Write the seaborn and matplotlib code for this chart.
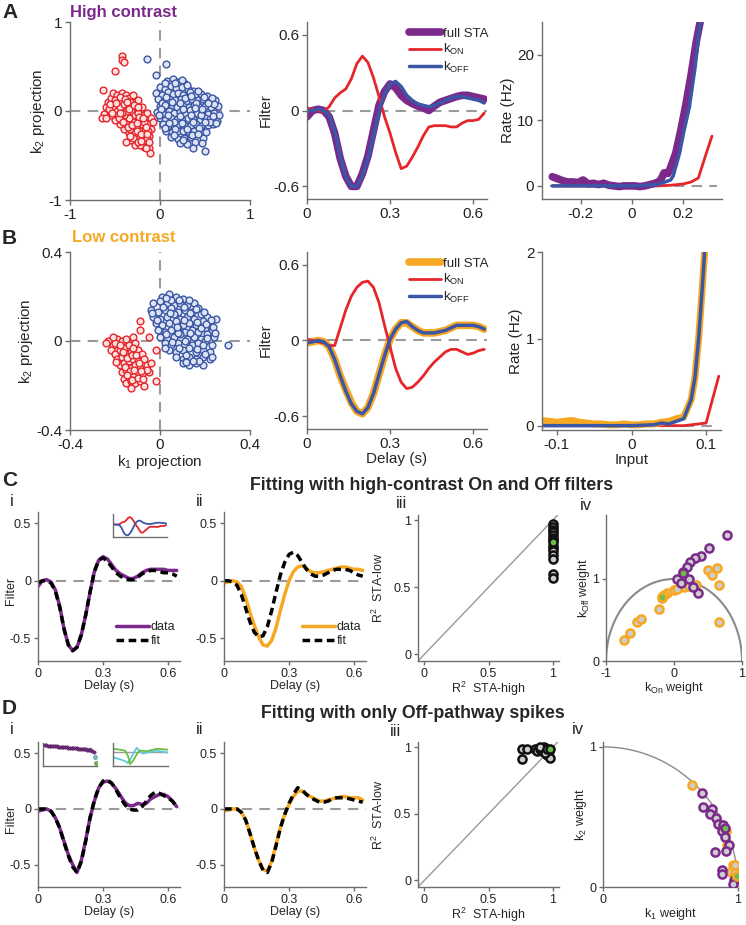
import numpy as np
import matplotlib
matplotlib.use("Agg")
import matplotlib.pyplot as plt
import seaborn as sns

sns.set_theme(style="ticks")
plt.rcParams['font.family'] = ['Liberation Sans', 'DejaVu Sans']
plt.rcParams['mathtext.fontset'] = 'custom'
plt.rcParams['mathtext.rm'] = 'Liberation Sans'
plt.rcParams['mathtext.it'] = 'Liberation Sans:italic'
plt.rcParams['mathtext.bf'] = 'Liberation Sans:bold'
plt.rcParams['axes.unicode_minus'] = False

PURPLE = '#7B2A8C'
RED = '#E5262B'
BLUE = '#3A56A5'
ORANGE = '#F7A823'
GRAY = '#9a9a9a'
SPINE = '#6e6e6e'
CYAN = '#5FC9DD'
GREEN = '#6CBD45'
LIGHT = '#cdcdcd'

# --- data: projections (A, B) ---
a_red = [(-0.62,-0.03),(-0.60,0.05),(-0.58,0.10),(-0.55,0.15),(-0.52,0.20),(-0.48,0.18),(-0.45,0.12),(-0.42,0.20),
         (-0.38,0.18),(-0.35,0.15),(-0.30,0.10),(-0.27,0.05),(-0.22,0.00),(-0.18,-0.05),(-0.15,-0.10),(-0.12,-0.15),
         (-0.10,-0.20),(-0.12,-0.28),(-0.15,-0.35),(-0.18,-0.40),(-0.12,-0.42),(-0.11,-0.47),(-0.25,-0.30),(-0.28,-0.38),
         (-0.32,-0.33),(-0.35,-0.25),(-0.40,-0.20),(-0.45,-0.15),(-0.50,-0.10),(-0.55,-0.05),(-0.52,0.05),(-0.48,0.00),
         (-0.45,0.05),(-0.40,0.08),(-0.35,0.05),(-0.32,0.00),(-0.28,-0.05),(-0.25,-0.10),(-0.20,-0.15),(-0.22,-0.22),
         (-0.27,-0.18),(-0.30,-0.12),(-0.35,-0.08),(-0.40,-0.05),(-0.43,-0.10),(-0.38,-0.15),(-0.33,-0.20),(-0.28,-0.25),
         (-0.20,-0.30),(-0.17,-0.22),(-0.15,-0.02),(-0.20,0.05),(-0.25,0.12),(-0.30,0.18),(-0.42,0.62),(-0.42,0.57),
         (-0.40,0.55),(-0.50,0.45),(-0.63,0.24),(-0.38,-0.35),(-0.22,-0.38),(-0.14,-0.30),(-0.65,-0.08),(-0.47,-0.05),
         (-0.37,0.00),(-0.24,-0.02),(-0.18,-0.12),(-0.10,-0.08),(-0.08,-0.12),(-0.30,-0.30),(-0.57,0.02),(-0.50,0.12),
         (-0.42,-0.02),(-0.33,0.10),(-0.23,-0.07),(-0.13,-0.22),(-0.25,-0.35),(-0.16,-0.42),
         (-0.60,-0.08),(-0.56,0.08),(-0.53,-0.02),(-0.49,0.09),(-0.46,-0.08),(-0.44,0.16),(-0.41,-0.12),(-0.39,0.13),
         (-0.36,-0.18),(-0.34,0.02),(-0.31,-0.16),(-0.29,0.07),(-0.26,-0.22),(-0.24,0.04),(-0.21,-0.26),(-0.19,-0.08),
         (-0.16,-0.18),(-0.14,-0.26),(-0.12,-0.35),(-0.26,-0.14),(-0.33,-0.28),(-0.37,0.10),(-0.45,-0.02),(-0.21,-0.34)]
a_blue = [(0.08,0.34),(0.14,0.36),(0.20,0.33),(0.27,0.31),(0.11,0.30),(0.24,0.35),
          (0.00,0.27),(0.05,0.25),(0.12,0.28),(0.18,0.26),(0.24,0.27),(0.31,0.25),(0.37,0.23),
          (-0.04,0.20),(0.02,0.18),(0.09,0.21),(0.14,0.19),(0.20,0.20),(0.26,0.18),(0.33,0.21),(0.39,0.18),(0.45,0.19),(0.52,0.17),
          (-0.02,0.13),(0.04,0.11),(0.10,0.14),(0.17,0.12),(0.23,0.13),(0.29,0.11),(0.35,0.14),(0.42,0.12),(0.48,0.13),(0.55,0.11),(0.61,0.12),
          (0.00,0.06),(0.07,0.04),(0.13,0.07),(0.19,0.05),(0.26,0.06),(0.32,0.04),(0.38,0.07),(0.44,0.05),(0.50,0.06),(0.57,0.04),(0.64,0.06),
          (-0.03,-0.01),(0.03,-0.03),(0.10,0.00),(0.16,-0.02),(0.22,-0.01),(0.28,-0.03),(0.35,0.00),(0.41,-0.02),(0.47,-0.01),(0.53,-0.03),(0.60,-0.02),
          (0.00,-0.08),(0.06,-0.10),(0.12,-0.08),(0.19,-0.09),(0.25,-0.10),(0.31,-0.08),(0.37,-0.09),(0.44,-0.10),(0.50,-0.08),(0.56,-0.09),(0.63,-0.11),
          (0.03,-0.15),(0.09,-0.17),(0.15,-0.16),(0.21,-0.15),(0.28,-0.17),(0.34,-0.16),(0.40,-0.15),(0.46,-0.17),(0.53,-0.16),(0.59,-0.15),
          (0.07,-0.22),(0.13,-0.24),(0.20,-0.23),(0.26,-0.22),(0.32,-0.24),(0.38,-0.23),(0.45,-0.22),(0.51,-0.24),
          (0.12,-0.29),(0.20,-0.31),(0.27,-0.30),(0.34,-0.29),(0.41,-0.31),(0.48,-0.30),
          (0.22,-0.36),(0.30,-0.37),(0.39,-0.35),(0.47,-0.36),
          (-0.15,0.58),(0.07,0.53),(-0.05,0.40),(0.37,-0.42),(0.50,-0.45),(0.65,-0.05),
          (0.07,0.16),(0.22,0.09),(0.33,0.01),(0.46,-0.05),(0.16,-0.12),(0.30,-0.20),(0.40,0.09),(0.55,-0.12),(0.02,0.09),(0.28,0.15),
          (0.05,0.31),(0.17,0.31),(0.30,0.29),(0.34,0.17),(0.42,0.22),(0.49,0.16),(0.58,0.15),(0.60,0.08),(0.53,0.09),
          (0.47,0.02),(0.39,0.03),(0.25,0.02),(0.13,0.10),(0.06,0.07),(0.01,0.02),(-0.01,-0.05),(0.09,-0.05),(0.22,-0.06),
          (0.34,-0.05),(0.59,-0.06),(0.62,-0.13),(0.50,-0.12),(0.43,-0.19),(0.37,-0.12),(0.24,-0.13),(0.10,-0.13),
          (0.06,-0.19),(0.17,-0.20),(0.35,-0.27),(0.42,-0.26),(0.25,-0.33),(0.16,-0.27)]
b_red = [(-0.23,0.00),(-0.21,-0.02),(-0.19,0.01),(-0.17,0.00),(-0.15,0.01),(-0.12,0.02),(-0.09,0.05),(-0.05,0.02),
         (-0.22,-0.04),(-0.20,-0.06),(-0.18,-0.04),(-0.16,-0.03),(-0.14,-0.02),(-0.11,-0.01),(-0.19,-0.08),(-0.17,-0.07),
         (-0.15,-0.06),(-0.13,-0.05),(-0.10,-0.04),(-0.08,-0.06),(-0.02,-0.04),(-0.18,-0.11),(-0.16,-0.10),(-0.14,-0.09),
         (-0.12,-0.08),(-0.10,-0.09),(-0.07,-0.08),(-0.17,-0.14),(-0.15,-0.13),(-0.13,-0.12),(-0.11,-0.11),(-0.09,-0.12),
         (-0.06,-0.11),(-0.16,-0.17),(-0.14,-0.16),(-0.12,-0.15),(-0.10,-0.14),(-0.08,-0.15),(-0.05,-0.14),(-0.15,-0.19),
         (-0.13,-0.18),(-0.11,-0.19),(-0.09,-0.18),(-0.07,-0.20),(-0.02,-0.18),(-0.20,-0.01),(-0.12,-0.03),(-0.06,-0.13),
         (-0.04,-0.10),(-0.13,-0.21),
         (-0.24,-0.01),(-0.21,0.02),(-0.18,-0.02),(-0.165,-0.05),(-0.145,-0.075),(-0.125,-0.065),(-0.105,-0.065),
         (-0.195,-0.095),(-0.155,-0.115),(-0.135,-0.135),(-0.115,-0.13),(-0.095,-0.10),(-0.085,-0.135),(-0.145,-0.155),
         (-0.125,-0.175),(-0.10,-0.165),(-0.075,-0.17),(-0.09,0.09)]
b_blue = [(0.01,0.20),(0.04,0.21),(0.07,0.20),(0.10,0.19),
          (-0.03,0.17),(0.00,0.18),(0.03,0.17),(0.06,0.16),(0.09,0.17),(0.12,0.16),(0.15,0.17),
          (-0.04,0.14),(-0.01,0.13),(0.02,0.14),(0.05,0.15),(0.08,0.13),(0.11,0.14),(0.14,0.13),(0.17,0.15),
          (-0.03,0.11),(0.00,0.10),(0.03,0.11),(0.06,0.12),(0.09,0.10),(0.12,0.11),(0.15,0.10),(0.18,0.12),(0.21,0.11),
          (-0.02,0.08),(0.01,0.07),(0.04,0.08),(0.07,0.09),(0.10,0.07),(0.13,0.08),(0.16,0.07),(0.19,0.09),(0.22,0.08),
          (-0.01,0.05),(0.02,0.04),(0.05,0.05),(0.08,0.06),(0.11,0.04),(0.14,0.05),(0.17,0.04),(0.20,0.06),(0.23,0.05),
          (0.00,0.02),(0.03,0.01),(0.06,0.02),(0.09,0.03),(0.12,0.01),(0.15,0.02),(0.18,0.01),(0.21,0.03),(0.24,0.02),
          (0.02,-0.01),(0.05,-0.02),(0.08,-0.01),(0.11,0.00),(0.14,-0.02),(0.17,-0.01),(0.20,0.00),(0.23,-0.02),
          (0.04,-0.04),(0.07,-0.05),(0.10,-0.04),(0.13,-0.03),(0.16,-0.05),(0.19,-0.04),(0.22,-0.05),
          (0.07,-0.07),(0.10,-0.08),(0.13,-0.07),(0.16,-0.08),(0.19,-0.07),(0.22,-0.08),
          (0.10,-0.10),(0.13,-0.11),(0.16,-0.10),(0.19,-0.11),
          (0.30,-0.02),(0.02,-0.03),(0.25,0.10),(0.23,-0.07),(0.05,0.185),(0.13,0.185),(0.08,0.035),(0.18,0.06),
          (0.025,0.195),(0.085,0.185),(0.015,0.155),(0.105,0.155),(0.16,0.145),(0.195,0.13),(0.225,0.095),(0.205,0.075),
          (0.235,0.065),(0.245,0.035),(0.21,0.015),(0.19,-0.02),(0.20,-0.06),(0.175,-0.09),(0.145,-0.09),(0.115,-0.065),
          (0.085,-0.03),(0.055,-0.005),(0.025,0.03),(-0.015,0.095),(-0.035,0.125),(0.045,0.125),(0.135,0.125),
          (0.105,0.095),(0.165,0.085),(0.075,0.065),(0.135,0.035),(0.165,-0.035),(0.115,-0.095)]

# --- data: filters (s) ---
delay = [0.00,0.02,0.04,0.06,0.08,0.10,0.12,0.14,0.16,0.18,0.20,0.22,0.24,0.26,0.28,0.30,0.32,
         0.34,0.36,0.38,0.40,0.42,0.44,0.46,0.48,0.50,0.52,0.54,0.56,0.58,0.60,0.62,0.64]
sta_high = [-0.05,0.00,0.01,0.00,-0.05,-0.18,-0.38,-0.52,-0.60,-0.60,-0.50,-0.36,-0.16,0.04,0.15,0.21,0.18,
            0.12,0.08,0.055,0.035,0.02,0.00,0.035,0.065,0.08,0.095,0.11,0.12,0.12,0.11,0.10,0.09]
koff_high = [0.00,0.00,0.01,0.00,-0.04,-0.16,-0.36,-0.52,-0.60,-0.60,-0.52,-0.38,-0.20,-0.01,0.13,0.21,0.23,
             0.19,0.12,0.08,0.05,0.04,0.03,0.04,0.06,0.08,0.10,0.11,0.11,0.10,0.09,0.08,0.06]
kon_high = [0.02,0.01,0.00,-0.01,0.03,0.10,0.14,0.17,0.25,0.37,0.43,0.38,0.26,0.11,-0.05,-0.18,-0.33,
            -0.46,-0.44,-0.37,-0.29,-0.20,-0.13,-0.12,-0.12,-0.12,-0.13,-0.13,-0.10,-0.08,-0.08,-0.07,-0.02]
sta_low = [-0.02,-0.01,0.00,-0.01,-0.05,-0.15,-0.28,-0.39,-0.49,-0.56,-0.58,-0.53,-0.42,-0.27,-0.12,0.01,0.09,
           0.14,0.14,0.11,0.08,0.06,0.06,0.06,0.07,0.08,0.10,0.12,0.12,0.12,0.12,0.11,0.09]
koff_low = [-0.02,-0.01,0.00,-0.01,-0.05,-0.15,-0.28,-0.40,-0.50,-0.56,-0.58,-0.53,-0.42,-0.27,-0.12,0.01,0.09,
            0.14,0.15,0.11,0.08,0.06,0.06,0.06,0.07,0.08,0.10,0.12,0.12,0.12,0.12,0.11,0.09]
kon_low = [0.01,0.00,-0.01,-0.02,-0.04,-0.04,0.10,0.24,0.35,0.42,0.46,0.47,0.42,0.30,0.12,-0.05,-0.22,
           -0.33,-0.38,-0.37,-0.33,-0.28,-0.22,-0.17,-0.13,-0.09,-0.07,-0.07,-0.09,-0.11,-0.10,-0.08,-0.07]

# --- data: nonlinearities ---
in_high = [-0.31,-0.29,-0.27,-0.25,-0.23,-0.21,-0.19,-0.17,-0.15,-0.13,-0.11,-0.09,-0.07,-0.05,-0.03,-0.01,
           0.01,0.03,0.05,0.07,0.09,0.11,0.125,0.14,0.15,0.17,0.19,0.21,0.23,0.25,0.265]
rate_sta_high = [1.4,1.1,0.8,0.6,0.6,0.5,0.9,0.3,0.4,0.2,0.4,0.1,0.0,-0.1,0.0,0.0,
                 0.0,-0.1,0.0,0.2,0.4,0.8,2.0,1.9,2.8,5.0,8.5,12.5,17.0,22.0,25.0]
in_off_high = [-0.31,0.00,0.10,0.15,0.16,0.185,0.20,0.223,0.245,0.265]
rate_off_high = [0.0,0.0,0.2,0.9,1.5,5.0,8.0,12.0,18.0,25.0]
in_on_high = [-0.31,0.10,0.15,0.20,0.23,0.258,0.285,0.311]
rate_on_high = [0.0,0.0,0.1,0.3,0.6,1.2,4.5,7.6]
in_low = [-0.12,-0.11,-0.10,-0.09,-0.08,-0.07,-0.06,-0.05,-0.04,-0.03,-0.02,-0.01,0.00,0.01,0.02,
          0.03,0.04,0.05,0.06,0.07,0.08,0.085,0.09,0.095,0.098]
rate_sta_low = [0.06,0.05,0.04,0.05,0.06,0.04,0.03,0.02,0.02,0.01,0.01,0.02,0.01,0.01,0.02,
                0.02,0.04,0.05,0.08,0.10,0.30,0.55,1.00,1.60,2.00]
in_off_low = [-0.12,0.00,0.03,0.04,0.05,0.06,0.07,0.08,0.085,0.09,0.095,0.098]
rate_off_low = [0.0,0.0,0.01,0.03,0.02,0.05,0.08,0.30,0.55,1.00,1.60,2.00]
in_on_low = [-0.12,0.07,0.10,0.117]
rate_on_low = [0.0,0.0,0.03,0.57]

# --- data: fits (C, D) ---
c_high_data = [-0.05,0.00,0.01,-0.01,-0.08,-0.22,-0.42,-0.56,-0.61,-0.58,-0.47,-0.30,-0.10,0.08,0.18,0.21,0.19,
               0.14,0.09,0.06,0.04,0.02,0.02,0.04,0.07,0.09,0.10,0.10,0.10,0.10,0.09,0.09,0.09]
c_high_fit = [-0.02,0.00,0.00,-0.02,-0.09,-0.23,-0.42,-0.56,-0.61,-0.58,-0.47,-0.30,-0.10,0.08,0.18,0.20,0.17,
              0.12,0.07,0.04,0.02,0.01,0.01,0.03,0.06,0.08,0.09,0.09,0.08,0.07,0.07,0.06,0.04]
c_low_data = [-0.02,-0.01,0.00,-0.01,-0.05,-0.15,-0.28,-0.39,-0.49,-0.56,-0.57,-0.52,-0.41,-0.26,-0.12,0.00,0.08,
              0.12,0.13,0.11,0.08,0.07,0.07,0.08,0.09,0.10,0.11,0.12,0.12,0.11,0.10,0.10,0.09]
c_low_fit = [0.00,0.00,-0.01,-0.04,-0.12,-0.24,-0.36,-0.45,-0.49,-0.48,-0.40,-0.26,-0.10,0.05,0.16,0.23,0.25,
             0.22,0.16,0.10,0.06,0.04,0.04,0.05,0.07,0.09,0.10,0.10,0.10,0.09,0.07,0.05,0.04]
d_high_data = [-0.02,-0.01,0.00,-0.02,-0.08,-0.17,-0.29,-0.41,-0.50,-0.57,-0.46,-0.28,-0.08,0.07,0.19,0.24,0.25,
               0.23,0.18,0.12,0.06,0.03,0.03,0.05,0.04,0.05,0.09,0.11,0.13,0.13,0.11,0.07,0.02]
d_high_fit = [0.00,0.00,0.00,-0.02,-0.08,-0.17,-0.30,-0.42,-0.52,-0.57,-0.47,-0.29,-0.08,0.08,0.19,0.25,0.26,
              0.23,0.17,0.10,0.04,0.00,-0.01,-0.01,0.02,0.07,0.12,0.15,0.14,0.12,0.10,0.07,0.02]
d_low_data = [-0.02,-0.01,0.00,0.00,-0.03,-0.10,-0.22,-0.35,-0.46,-0.54,-0.56,-0.47,-0.32,-0.17,-0.05,0.04,0.11,
              0.16,0.16,0.13,0.11,0.09,0.07,0.07,0.08,0.09,0.10,0.11,0.11,0.10,0.10,0.10,0.08]
d_low_fit = [0.00,0.00,0.00,0.00,-0.03,-0.10,-0.22,-0.35,-0.46,-0.55,-0.57,-0.48,-0.33,-0.17,-0.05,0.05,0.13,
             0.19,0.17,0.13,0.10,0.08,0.06,0.06,0.07,0.09,0.10,0.10,0.10,0.09,0.08,0.07,0.06]

# r2 of fits: (STA-high, STA-low)
c_r2_high = [1.0,1.0,1.0,1.0,1.0,1.0,1.0,1.0,1.0,1.0,1.0,1.0,1.0,1.0]
c_r2_low = [0.97,0.95,0.93,0.91,0.89,0.87,0.85,0.81,0.79,0.77,0.74,0.71,0.60,0.57]
c_r2_sel = (1.0, 0.84)
d_r2_high = [0.76,0.76,0.80,0.86,0.88,0.90,0.92,0.93,0.95,0.96,0.97,0.98,0.90,0.94,0.96]
d_r2_low = [0.99,0.91,0.99,0.99,0.97,0.99,0.97,1.00,0.99,0.94,0.97,0.92,1.00,0.96,0.99]
d_r2_sel = (0.98, 0.99)

# weights
c_w_high_on = [0.78,0.51,0.40,0.31,0.24,0.19,0.13,0.22,0.05,0.35,0.28,0.10]
c_w_high_off = [1.54,1.38,1.28,1.26,1.21,1.15,1.09,1.00,1.00,0.83,0.90,0.95]
c_w_low_on = [-0.74,-0.65,-0.55,-0.49,-0.22,-0.17,-0.10,0.00,0.15,0.32,0.50,0.63,0.56,0.66,0.66,-0.15,0.05,0.22]
c_w_low_off = [0.26,0.34,0.48,0.51,0.63,0.77,0.83,0.87,0.90,0.93,1.11,1.13,1.05,0.93,0.48,0.80,0.88,0.91]
c_w_sel_high = (0.13, 1.07)
c_w_sel_low = (-0.17, 0.78)
d_w_low_1 = [0.66,0.92,0.96,0.98,0.95,0.99,1.00,0.91,0.97,0.98]
d_w_low_2 = [0.73,0.30,0.155,0.155,0.107,0.06,0.01,0.40,0.03,0.10]
d_w_high_1 = [0.73,0.74,0.81,0.79,0.84,0.85,0.89,0.88,0.90,0.93,0.91,0.83,0.88,0.88,0.97,0.96]
d_w_high_2 = [0.67,0.57,0.56,0.52,0.49,0.45,0.44,0.40,0.36,0.30,0.26,0.25,0.12,0.09,0.05,0.02]
d_w_sel_high = (0.90, 0.42)
d_w_sel_low = (0.99, 0.08)

# insets in D i
rank_vals = [1.00,0.99,0.98,0.975,0.965,0.955,0.95,0.94,0.93,0.925,0.915,0.905,0.90,0.89,0.88,
             0.875,0.865,0.855,0.85,0.84,0.83,0.82,0.81,0.80,0.79,0.78,0.77,0.75,0.72,0.66]
rank_extra = [0.45, 0.15]
inset_t = [0.00,0.13,0.22,0.27,0.31,0.37,0.43,0.48,0.54,0.62,0.80,1.00]
inset_cyan = [-0.6,-0.8,-1.0,-1.2,-0.9,-0.2,0.4,0.1,-0.2,-0.1,0.1,-0.1]
inset_green = [0.3,0.2,0.1,-0.4,-1.3,-0.9,-0.3,0.1,0.1,0.05,0.3,0.2]

W, H = 746, 925
fig = plt.figure(figsize=(W / 100, H / 100), dpi=100)


def px_axes(l, t, r, b):
    return fig.add_axes([l / W, 1 - b / H, (r - l) / W, (b - t) / H])


def style(ax, fs, ticklen=3.5):
    sns.despine(ax=ax)
    for s in ('left', 'bottom'):
        ax.spines[s].set_color(SPINE)
        ax.spines[s].set_linewidth(1.0)
    ax.tick_params(direction='out', length=ticklen, width=1, colors=SPINE,
                   labelcolor='#222222', labelsize=fs, pad=2)
    ax.set_facecolor('none')


def ftext(x, y, s, **kw):
    fig.text(x / W, 1 - y / H, s, va='center', **kw)


def zero_lines(ax, h=True, v=False):
    if h:
        ax.axhline(0, color=GRAY, lw=1.5, dashes=(5, 3.5), zorder=0)
    if v:
        ax.axvline(0, color=GRAY, lw=1.5, dashes=(5, 3.5), zorder=0)


def scatter_cloud(ax, pts, edge, face):
    xs = [p[0] for p in pts]
    ys = [p[1] for p in pts]
    sns.scatterplot(x=xs, y=ys, ax=ax, s=24, color=face, edgecolor=edge, linewidth=1.0, zorder=3)


def line(ax, x, y, color, lw, label=None, **kw):
    sns.lineplot(x=x, y=y, ax=ax, color=color, lw=lw, label=label, sort=False,
                 estimator=None, **kw)


# ---------------- Row A / B ----------------
for row, (pts_r, pts_b, lim, ticks, tlabels, top, bot) in enumerate([
        (a_red, a_blue, 1.0, [-1, 0, 1], ['-1', '0', '1'], 22, 200),
        (b_red, b_blue, 0.4, [-0.4, 0, 0.4], ['-0.4', '0', '0.4'], 252, 430)]):
    ax = px_axes(70, top, 250, bot)
    style(ax, 11)
    zero_lines(ax, True, True)
    scatter_cloud(ax, pts_r, RED, '#fbe0e0')
    scatter_cloud(ax, pts_b, BLUE, '#dde3f3')
    ax.set_xlim(-lim, lim)
    ax.set_ylim(-lim, lim)
    ax.set_xticks(ticks, labels=tlabels)
    ax.set_yticks(ticks, labels=tlabels)
    ax.set_ylabel('k$_2$ projection', fontsize=11, labelpad=1)
    if row == 1:
        ax.set_xlabel('k$_1$ projection', fontsize=11, labelpad=1)

for row, (sta, koff, kon, col, top, bot) in enumerate([
        (sta_high, koff_high, kon_high, PURPLE, 22, 199),
        (sta_low, koff_low, kon_low, ORANGE, 252, 429)]):
    ax = px_axes(307, top, 487, bot)
    style(ax, 11)
    zero_lines(ax)
    line(ax, delay, sta, col, 5.5, 'full STA')
    line(ax, delay, kon, RED, 2.0, 'k$_{\\mathrm{ON}}$')
    line(ax, delay, koff, BLUE, 2.5, 'k$_{\\mathrm{OFF}}$')
    ax.set_xlim(0, 0.65)
    ax.set_ylim(-0.7, 0.7)
    ax.set_xticks([0, 0.3, 0.6], labels=['0', '0.3', '0.6'])
    ax.set_yticks([-0.6, 0, 0.6], labels=['-0.6', '0', '0.6'])
    ax.set_ylabel('Filter', fontsize=11, labelpad=0)
    if row == 1:
        ax.set_xlabel('Delay (s)', fontsize=11, labelpad=1)
    ax.legend(loc='upper right', bbox_to_anchor=(1.04, 1.0), frameon=False, fontsize=9.5,
              handlelength=2.4, handletextpad=0.2, labelspacing=0.2, borderaxespad=0)

ax = px_axes(542, 22, 722, 199)
style(ax, 11)
ax.hlines(0, -0.32, 0.33, color=GRAY, lw=1.5, linestyles=(0, (5, 3.5)), zorder=0)
line(ax, in_on_high, rate_on_high, RED, 2.0)
line(ax, in_high, rate_sta_high, PURPLE, 5.5)
line(ax, in_off_high, rate_off_high, BLUE, 2.5)
ax.set_xlim(-0.35, 0.35)
ax.set_ylim(-2, 25)
ax.set_xticks([-0.2, 0, 0.2], labels=['-0.2', '0', '0.2'])
ax.set_yticks([0, 10, 20], labels=['0', '10', '20'])
ax.set_ylabel('Rate (Hz)', fontsize=11, labelpad=2)

ax = px_axes(542, 252, 721, 430)
style(ax, 11)
ax.hlines(0, -0.12, 0.113, color=GRAY, lw=1.5, linestyles=(0, (5, 3.5)), zorder=0)
line(ax, in_on_low, rate_on_low, RED, 2.0)
line(ax, in_low, rate_sta_low, ORANGE, 5.0)
line(ax, in_off_low, rate_off_low, BLUE, 2.5)
ax.set_xlim(-0.12, 0.12)
ax.set_ylim(-0.05, 2)
ax.set_xticks([-0.1, 0, 0.1], labels=['-0.1', '0', '0.1'])
ax.set_yticks([0, 1, 2], labels=['0', '1', '2'])
ax.set_ylabel('Rate (Hz)', fontsize=11, labelpad=2)
ax.set_xlabel('Input', fontsize=11, labelpad=1)

# ---------------- Rows C / D ----------------
FS = 9


def fit_panel(l, top, bot, data, fit, col, ylabel, legend):
    ax = px_axes(l, top, l + 142, bot)
    style(ax, FS, 3)
    zero_lines(ax)
    line(ax, delay, data, col, 2.5, 'data' if legend else None)
    line(ax, delay, fit, 'black', 2.5, 'fit' if legend else None, dashes=(2.2, 1.3))
    ax.set_xlim(0, 0.655)
    ax.set_ylim(-0.7, 0.6)
    ax.set_xticks([0, 0.3, 0.6], labels=['0', '0.3', '0.6'])
    ax.set_yticks([-0.5, 0, 0.5], labels=['-0.5', '0', '0.5'])
    ax.set_xlabel('Delay (s)', fontsize=FS, labelpad=0)
    if ylabel:
        ax.set_ylabel('Filter', fontsize=FS)
        ax.yaxis.set_label_coords(-0.15, 0.47)
    if legend:
        ax.legend(loc='lower right', bbox_to_anchor=(1.0, 0.06), frameon=False, fontsize=FS,
                  handlelength=2.6, handletextpad=0.15, labelspacing=0.15, borderaxespad=0)
    return ax


def r2_panel(top, bot, xs, ys, sel):
    ax = px_axes(418, top, 559, bot)
    style(ax, FS, 3)
    ax.axline((0, 0), slope=1, color='#999999', lw=1.0, zorder=0)
    sns.scatterplot(x=xs, y=ys, ax=ax, s=34, color=LIGHT, edgecolor='#111111', linewidth=1.8, zorder=3)
    sns.scatterplot(x=[sel[0]], y=[sel[1]], ax=ax, s=34, color=GREEN, edgecolor='#111111',
                    linewidth=1.8, zorder=4)
    ax.set_xlim(-0.05, 1.05)
    ax.set_ylim(-0.05, 1.04)
    ax.set_xticks([0, 0.5, 1], labels=['0', '0.5', '1'])
    ax.set_yticks([0, 0.5, 1], labels=['0', '0.5', '1'])
    ax.set_xlabel('R$^2$  STA-high', fontsize=FS, labelpad=0)
    ax.set_ylabel('R$^2$  STA-low', fontsize=FS)
    ax.yaxis.set_label_coords(-0.23, 0.5)
    return ax


def weight_pts(ax, xs, ys, edge, sel):
    sns.scatterplot(x=xs, y=ys, ax=ax, s=34, color=LIGHT, edgecolor=edge, linewidth=1.8, zorder=3)
    sns.scatterplot(x=[sel[0]], y=[sel[1]], ax=ax, s=34, color=GREEN, edgecolor=edge,
                    linewidth=1.8, zorder=4)


# C
fit_panel(38, 512, 661, c_high_data, c_high_fit, PURPLE, True, True)
fit_panel(224, 512, 661, c_low_data, c_low_fit, ORANGE, False, True)
r2_panel(515, 661, c_r2_high, c_r2_low, c_r2_sel)

ax = px_axes(606, 515, 742, 661)
style(ax, FS, 3)
theta = np.linspace(0, np.pi, 200)
ax.plot(np.cos(theta), np.sin(theta), color='#8a8a8a', lw=1.5, zorder=1)
weight_pts(ax, c_w_low_on, c_w_low_off, ORANGE, c_w_sel_low)
weight_pts(ax, c_w_high_on, c_w_high_off, PURPLE, c_w_sel_high)
ax.set_xlim(-1, 1.0)
ax.set_ylim(0, 1.78)
ax.set_xticks([-1, 0, 1], labels=['-1', '0', '1'])
ax.set_yticks([0, 1], labels=['0', '1'])
ax.set_xlabel('k$_{\\mathrm{On}}$ weight', fontsize=FS, labelpad=0)
ax.set_ylabel('k$_{\\mathrm{Off}}$ weight', fontsize=FS, labelpad=0)

# C i inset: high-contrast On and Off filters
ins = px_axes(113, 514, 167, 537)
style(ins, 1, 0)
ins.set_xticks([])
ins.set_yticks([])
line(ins, delay, kon_high, RED, 1.3)
line(ins, delay, koff_high, BLUE, 1.3)
ins.set_xlim(0, 0.65)
ins.set_ylim(-0.7, 0.6)

# D
fit_panel(38, 742, 887, d_high_data, d_high_fit, PURPLE, True, False)
fit_panel(224, 742, 887, d_low_data, d_low_fit, ORANGE, False, False)
r2_panel(742, 887, d_r2_high, d_r2_low, d_r2_sel)

ax = px_axes(603, 742, 738, 887)
style(ax, FS, 3)
theta = np.linspace(0, np.pi / 2, 100)
ax.plot(np.cos(theta), np.sin(theta), color='#8a8a8a', lw=1.0, zorder=1)
weight_pts(ax, d_w_low_1, d_w_low_2, ORANGE, d_w_sel_low)
weight_pts(ax, d_w_high_1, d_w_high_2, PURPLE, d_w_sel_high)
ax.set_xlim(0, 1.0)
ax.set_ylim(0, 1.035)
ax.set_xticks([0, 1], labels=['0', '1'])
ax.set_yticks([0, 1], labels=['0', '1'])
ax.set_xlabel('k$_1$ weight', fontsize=FS, labelpad=0)
ax.set_ylabel('k$_2$ weight', fontsize=FS, labelpad=0)

# D i insets
ins = px_axes(43, 743, 97, 766)
style(ins, 1, 0)
ins.set_xticks([])
ins.set_yticks([])
rank_x = list(range(len(rank_vals)))
sns.scatterplot(x=rank_x, y=rank_vals, ax=ins, s=6, color=PURPLE, edgecolor='#3a1a40', linewidth=0.3, zorder=3)
n = len(rank_vals)
ins.hlines(0.86, 20, 28, color='#9a9a9a', lw=1.0, zorder=2)
sns.scatterplot(x=[n - 0.2], y=[rank_extra[0]], ax=ins, s=9, color=CYAN,
                edgecolor='#555555', linewidth=0.3, zorder=4)
sns.scatterplot(x=[n + 0.3], y=[rank_extra[1]], ax=ins, s=9, color=GREEN,
                edgecolor='#555555', linewidth=0.3, zorder=5)
ins.set_xlim(-1, n + 1)
ins.set_ylim(0, 1.1)

ins = px_axes(113, 743, 168, 766)
style(ins, 1, 0)
ins.set_xticks([])
ins.set_yticks([])
ins.axhline(0, color='#9a9a9a', lw=1.0, zorder=0)
line(ins, inset_t, inset_cyan, CYAN, 1.3)
line(ins, inset_t, inset_green, GREEN, 1.3)
ins.set_xlim(0, 1)
ins.set_ylim(-1.5, 0.9)

# ---------------- text ----------------
ftext(2, 12, 'A', fontsize=15, fontweight='bold')
ftext(70, 12, 'High contrast', fontsize=12, fontweight='bold', color=PURPLE)
ftext(2, 238, 'B', fontsize=15, fontweight='bold')
ftext(72, 238, 'Low contrast', fontsize=12, fontweight='bold', color=ORANGE)
ftext(2, 480, 'C', fontsize=15, fontweight='bold')
ftext(432, 486, 'Fitting with high-contrast On and Off filters', fontsize=12.8, fontweight='bold', ha='center')
ftext(2, 708, 'D', fontsize=15, fontweight='bold')
ftext(413, 713, 'Fitting with only Off-pathway spikes', fontsize=12.8, fontweight='bold', ha='center')
for x, y, s in [(10, 501, 'i'), (196, 501, 'ii'), (396, 503, 'iii'), (580, 505, 'iv'),
                (10, 729, 'i'), (196, 729, 'ii'), (390, 731, 'iii'), (572, 730, 'iv')]:
    ftext(x, y, s, fontsize=12)

fig.savefig('out.png', dpi=100)
